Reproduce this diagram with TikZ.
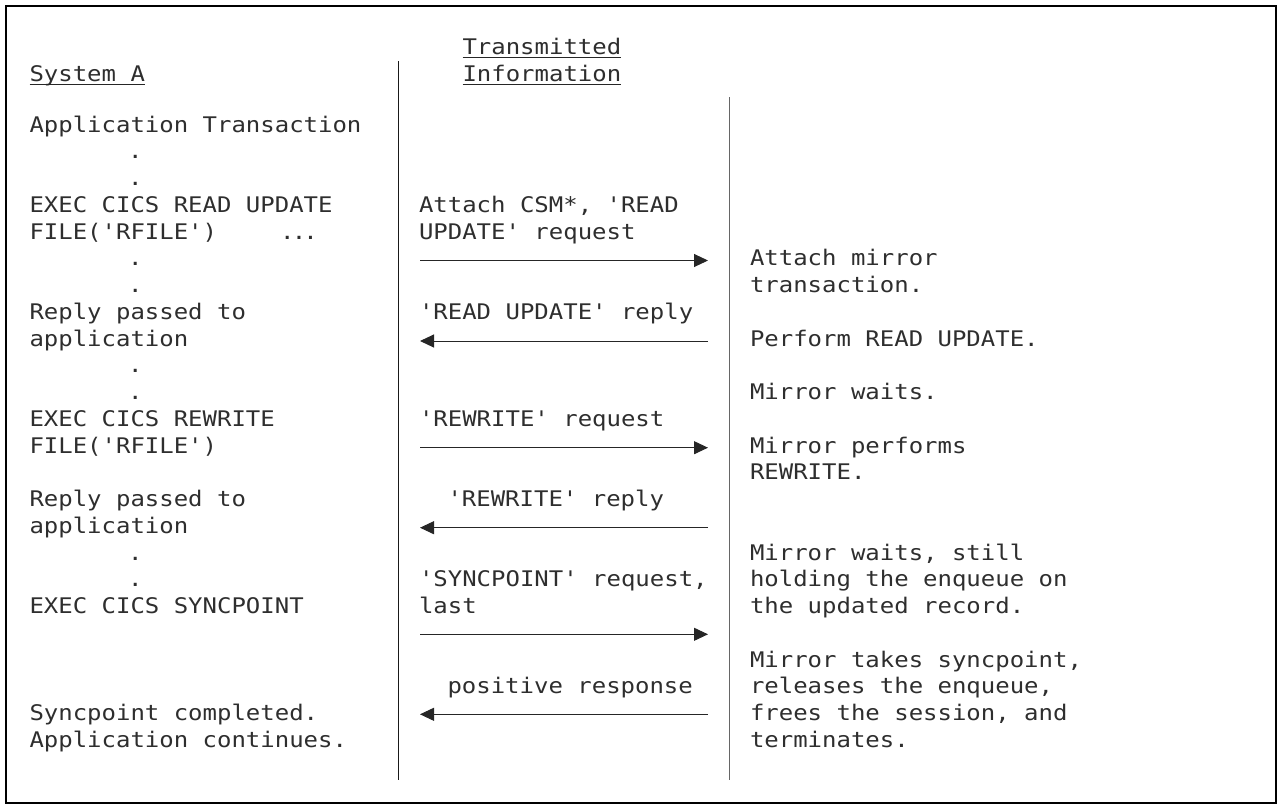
\documentclass[tikz,border=0pt]{standalone}
\usepackage{fontspec}
\newfontfamily\monoface[FakeStretch=1.115,Ligatures=TeXOff]{DejaVu Sans Mono}
\usetikzlibrary{arrows.meta}
\newcommand\mkline[4]{\node[txt] (#1) at (#2,{132+26.75*(#3)}) {#4};}
\tikzset{
  txt/.style={anchor=base west, inner sep=0pt, outer sep=0pt,
    font=\monoface\fontsize{21.5}{26.75}\selectfont, text=black!82},
  uline/.style={line width=1.8pt, draw=black!85},
  msg/.style={draw=black!85, line width=1pt, -{Triangle[length=14pt,width=13pt]}},
  lifeA/.style={draw=black!90, line width=1.3pt},
  lifeB/.style={draw=black!60, line width=1.3pt},
  frame/.style={draw=black, line width=1.5pt}
}
\begin{document}
\begin{tikzpicture}[x=1pt,y=-1pt]
\path[use as bounding box] (0,0) rectangle (1281,809);
\draw[frame] (6,6) rectangle (1276,803);

% headers
\node[txt] (sysA) at (29.5,81) {System A};
\node[txt] (hdr1) at (462.5,54) {Transmitted};
\node[txt] (hdr2) at (462.5,81) {Information};
\draw[uline] ([yshift=-3.5pt]sysA.base west) -- ([yshift=-3.5pt]sysA.base east);
\draw[uline] ([yshift=-3.5pt]hdr1.base west) -- ([yshift=-3.5pt]hdr1.base east);
\draw[uline] ([yshift=-3.5pt]hdr2.base west) -- ([yshift=-3.5pt]hdr2.base east);

% lifelines
\coordinate (lAtop) at (398.3,61);
\coordinate (lAbot) at (398.3,780);
\coordinate (lBtop) at (729.3,97);
\coordinate (lBbot) at (729.3,780);
\draw[lifeA] (lAtop) -- (lAbot);
\draw[lifeB] (lBtop) -- (lBbot);

% left column: System A
\mkline{a0}{29.5}{0}{Application Transaction}
\mkline{ad1}{128}{1}{.}
\mkline{ad2}{128}{2}{.}
\mkline{a3}{29.5}{3}{EXEC CICS READ UPDATE}
\mkline{a4}{29.5}{4}{FILE('RFILE')}
\mkline{a4b}{280}{4}{.\kern-2.7pt.\kern-2.7pt.}
\mkline{ad5}{128}{5}{.}
\mkline{ad6}{128}{6}{.}
\mkline{a7}{29.5}{7}{Reply passed to}
\mkline{a8}{29.5}{8}{application}
\mkline{ad9}{128}{9}{.}
\mkline{ad10}{128}{10}{.}
\mkline{a11}{29.5}{11}{EXEC CICS REWRITE}
\mkline{a12}{29.5}{12}{FILE('RFILE')}
\mkline{a14}{29.5}{14}{Reply passed to}
\mkline{a15}{29.5}{15}{application}
\mkline{ad16}{128}{16}{.}
\mkline{ad17}{128}{17}{.}
\mkline{a18}{29.5}{18}{EXEC CICS SYNCPOINT}
\mkline{a22}{29.5}{22}{Syncpoint completed.}
\mkline{a23}{29.5}{23}{Application continues.}

% middle column: transmitted information
\mkline{m3}{419}{3}{Attach CSM*, 'READ}
\mkline{m4}{419}{4}{UPDATE' request}
\mkline{m7}{419}{7}{'READ UPDATE' reply}
\mkline{m11}{419}{11}{'REWRITE' request}
\mkline{m14}{447.5}{14}{'REWRITE' reply}
\mkline{m17}{419}{17}{'SYNCPOINT' request,}
\mkline{m18}{419}{18}{last}
\mkline{m21}{447.5}{21}{positive response}

% right column: mirror
\mkline{r5}{750}{5}{Attach mirror}
\mkline{r6}{750}{6}{transaction.}
\mkline{r8}{750}{8}{Perform READ UPDATE.}
\mkline{r10}{750}{10}{Mirror waits.}
\mkline{r12}{750}{12}{Mirror performs}
\mkline{r13}{750}{13}{REWRITE.}
\mkline{r16}{750}{16}{Mirror waits, still}
\mkline{r17}{750}{17}{holding the enqueue on}
\mkline{r18}{750}{18}{the updated record.}
\mkline{r20}{750}{20}{Mirror takes syncpoint,}
\mkline{r21}{750}{21}{releases the enqueue,}
\mkline{r22}{750}{22}{frees the session, and}
\mkline{r23}{750}{23}{terminates.}

% message arrows
\coordinate (p1) at (420,260.5);  \coordinate (q1) at (708,260.5);
\coordinate (p2) at (420,341);    \coordinate (q2) at (708,341);
\coordinate (p3) at (420,447.7);  \coordinate (q3) at (708,447.7);
\coordinate (p4) at (420,527.7);  \coordinate (q4) at (708,527.7);
\coordinate (p5) at (420,634.3);  \coordinate (q5) at (708,634.3);
\coordinate (p6) at (420,714.3);  \coordinate (q6) at (708,714.3);
\draw[msg] (p1) -- (q1);
\draw[msg] (q2) -- (p2);
\draw[msg] (p3) -- (q3);
\draw[msg] (q4) -- (p4);
\draw[msg] (p5) -- (q5);
\draw[msg] (q6) -- (p6);
\end{tikzpicture}
\end{document}
